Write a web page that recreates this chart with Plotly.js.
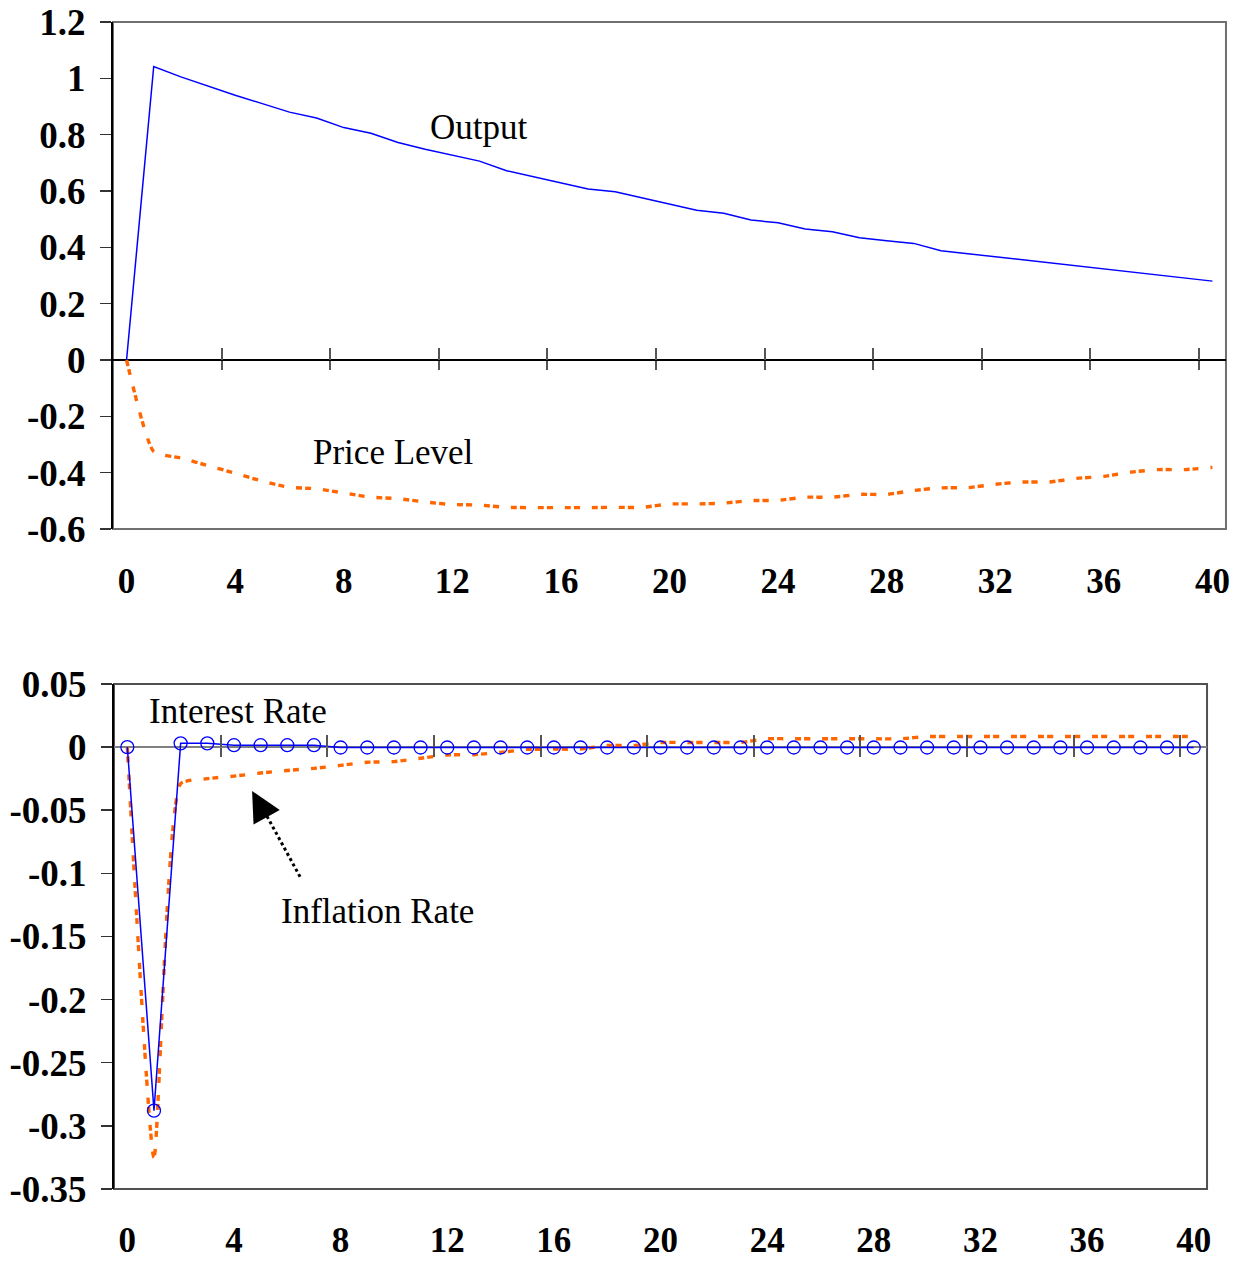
<!DOCTYPE html>
<html><head><meta charset="utf-8">
<script src="https://cdn.plot.ly/plotly-3.0.1.min.js"></script>
<style>html,body{margin:0;padding:0;background:#fff}#chart{width:1239px;height:1262px}</style>
</head><body><div id="chart"></div>
<script>
// ---------- data ----------
const periods = [0,1,2,3,4,5,6,7,8,9,10,11,12,13,14,15,16,17,18,19,20,21,22,23,24,25,26,27,28,29,30,31,32,33,34,35,36,37,38,39,40];
const output = [0,1.042,1.005,0.972,0.94,0.91,0.88,0.859,0.825,0.805,0.772,0.748,0.726,0.706,0.672,0.65,0.628,0.607,0.597,0.575,0.553,0.532,0.521,0.497,0.487,0.465,0.455,0.434,0.423,0.414,0.388,0.377,0.366,0.356,0.345,0.334,0.323,0.312,0.302,0.291,0.28];
const priceLevel = [0,-0.325,-0.348,-0.375,-0.402,-0.43,-0.452,-0.457,-0.472,-0.487,-0.492,-0.504,-0.513,-0.515,-0.523,-0.524,-0.524,-0.524,-0.523,-0.523,-0.511,-0.511,-0.508,-0.499,-0.498,-0.487,-0.487,-0.477,-0.477,-0.463,-0.454,-0.453,-0.441,-0.433,-0.433,-0.42,-0.413,-0.398,-0.389,-0.389,-0.381];
const interestRate = [0,-0.288,0.003,0.003,0.0015,0.0015,0.0015,0.0015,-0.0003,-0.0003,-0.0003,-0.0003,-0.0003,-0.0003,-0.0003,-0.0003,-0.0003,-0.0003,-0.0003,-0.0003,-0.0003,-0.0003,-0.0003,-0.0003,-0.0003,-0.0003,-0.0003,-0.0003,-0.0003,-0.0003,-0.0003,-0.0003,-0.0003,-0.0003,-0.0003,-0.0003,-0.0003,-0.0003,-0.0003,-0.0003,-0.0003];
const inflationRate = [0,-0.325,-0.029,-0.025,-0.023,-0.0205,-0.0185,-0.0168,-0.0145,-0.012,-0.0115,-0.0088,-0.0062,-0.006,-0.0042,-0.0018,-0.0016,-0.0015,0.0013,0.0013,0.0037,0.0037,0.0037,0.0037,0.0066,0.0066,0.0066,0.0066,0.0066,0.0066,0.0084,0.0084,0.0084,0.0084,0.0084,0.0084,0.0084,0.0084,0.0084,0.0084,0.0084];

const xTickVals = [0,4,8,12,16,20,24,28,32,36,40];
const xTickText = ['0','4','8','12','16','20','24','28','32','36','40'];
const betweenTicks = [3.5,7.5,11.5,15.5,19.5,23.5,27.5,31.5,35.5,39.5];
const topYTickVals = [-0.6,-0.4,-0.2,0,0.2,0.4,0.6,0.8,1,1.2];
const topYTickText = ['-0.6','-0.4','-0.2','0','0.2','0.4','0.6','0.8','1','1.2'];
const botYTickVals = [-0.35,-0.3,-0.25,-0.2,-0.15,-0.1,-0.05,0,0.05];
const botYTickText = ['-0.35','-0.3','-0.25','-0.2','-0.15','-0.1','-0.05','0','0.05'];

// ---------- layout geometry ----------
const xRange = [-0.5, 40.5];
const topYRange = [-0.6, 1.2];
const botYRange = [-0.35, 0.05];
const topXDom = [0.0912, 0.9895];
const topYDom = [0.5808, 0.9826];
const botXDom = [0.0920, 0.9742];
const botYDom = [0.0579, 0.4580];
function zeroPos(dom, rng){ return dom[0] + (0 - rng[0])/(rng[1]-rng[0])*(dom[1]-dom[0]); }

const serif = 'Liberation Serif, Times New Roman, serif';
const xTickFont = {family: serif, size: 35, color: '#000', weight: 'bold'};
const yTickFont = {family: serif, size: 37, color: '#000', weight: 'bold'};
const annFont = {family: serif, size: 35, color: '#000'};
const blue = '#0000FF';
const orange = '#FF6600';
const orangeDash = '6px,3px,6px,12px';

const traces = [
  {x: periods, y: output, xaxis:'x', yaxis:'y', mode:'lines', line:{color:blue, width:1.5}, hoverinfo:'skip'},
  {x: periods, y: priceLevel, xaxis:'x', yaxis:'y', mode:'lines', line:{color:orange, width:3.4, dash:orangeDash, shape:'spline', smoothing:0.5}, hoverinfo:'skip'},
  {x: periods, y: inflationRate, xaxis:'x2', yaxis:'y2', mode:'lines', line:{color:orange, width:3.4, dash:orangeDash, shape:'spline', smoothing:0.5}, hoverinfo:'skip'},
  {x: periods, y: interestRate, xaxis:'x2', yaxis:'y2', mode:'lines+markers', line:{color:blue, width:1.5}, marker:{symbol:'circle-open', size:13, color:blue, line:{width:1.3, color:blue}}, hoverinfo:'skip'},
  {x: [], y: [], xaxis:'x3', yaxis:'y'},
  {x: [], y: [], xaxis:'x4', yaxis:'y'},
  {x: [], y: [], xaxis:'x5', yaxis:'y2'},
  {x: [], y: [], xaxis:'x6', yaxis:'y2'}
];

function labelAxis(dom, standoff){
  return {domain: dom, range: xRange, tickmode:'array', tickvals: xTickVals, ticktext: xTickText,
    ticks:'', showgrid:false, zeroline:false, showline:false, tickfont: xTickFont, ticklabelstandoff: standoff, fixedrange:true};
}
function crossAxis(dom, pos, side, len, over){
  return {domain: dom, range: xRange, overlaying: over, anchor:'free', position: pos, side: side,
    tickmode:'array', tickvals: betweenTicks, ticks:'outside', ticklen: len, tickwidth: 2, tickcolor:'#555',
    showticklabels:false, showgrid:false, zeroline:false, showline:false, fixedrange:true};
}
function yAxis(dom, rng, vals, text, zlColor){
  return {domain: dom, range: rng, tickmode:'array', tickvals: vals, ticktext: text,
    ticks:'outside', ticklen: 11, tickwidth: 1.5, tickcolor:'#333', showgrid:false,
    zeroline:true, zerolinecolor: zlColor, zerolinewidth: 2,
    showline:true, linecolor:'#000', linewidth:2, tickfont: yTickFont, ticklabelstandoff: 7, fixedrange:true};
}

const topZero = zeroPos(topYDom, topYRange);
const botZero = zeroPos(botYDom, botYRange);

// annotation anchor points (chart coordinates)
const arrowTip = {x: 4.68, y: -0.0348};
const arrowTail = {x: 6.48, y: -0.1027};

const layout = {
  width: 1239, height: 1262,
  margin: {l:0, r:0, t:0, b:0},
  paper_bgcolor:'#fff', plot_bgcolor:'#fff',
  showlegend:false,
  xaxis: Object.assign(labelAxis(topXDom, 28), {anchor:'y'}),
  yaxis: Object.assign(yAxis(topYDom, topYRange, topYTickVals, topYTickText, '#000'), {anchor:'x'}),
  xaxis2: Object.assign(labelAxis(botXDom, 27), {anchor:'y2'}),
  yaxis2: Object.assign(yAxis(botYDom, botYRange, botYTickVals, botYTickText, '#808080'), {anchor:'x2'}),
  xaxis3: crossAxis(topXDom, topZero, 'bottom', 9, 'x'),
  xaxis4: crossAxis(topXDom, topZero, 'top', 12, 'x'),
  xaxis5: crossAxis(botXDom, botZero, 'bottom', 9, 'x2'),
  xaxis6: crossAxis(botXDom, botZero, 'top', 12, 'x2'),
  shapes: [
    {type:'rect', xref:'x domain', yref:'y domain', x0:0, x1:1, y0:0, y1:1, line:{color:'#707070', width:2}, layer:'below'},
    {type:'rect', xref:'x2 domain', yref:'y2 domain', x0:0, x1:1, y0:0, y1:1, line:{color:'#505050', width:2}, layer:'below'},
    {type:'line', xref:'x2', yref:'y2', x0: arrowTail.x, y0: arrowTail.y, x1: arrowTip.x + 0.3, y1: arrowTip.y - 0.01, line:{color:'#000', width:3, dash:'dot'}}
  ],
  annotations: [
    {xref:'x', yref:'y', x:13.0, y:0.824, text:'Output', showarrow:false, font:annFont},
    {xref:'x', yref:'y', x:9.85, y:-0.33, text:'Price Level', showarrow:false, font:annFont},
    {xref:'x2', yref:'y2', x:4.15, y:0.0284, text:'Interest Rate', showarrow:false, font:annFont},
    {xref:'x2', yref:'y2', x:9.37, y:-0.1303, text:'Inflation Rate', showarrow:false, font:annFont},
    {xref:'x2', yref:'y2', x: arrowTip.x, y: arrowTip.y, text:'', showarrow:true, arrowhead:2, arrowsize:2, arrowwidth:3, arrowcolor:'#000', ax:10, ay:18}
  ]
};

Plotly.newPlot('chart', traces, layout, {staticPlot:true, displayModeBar:false});
</script>
</body></html>
